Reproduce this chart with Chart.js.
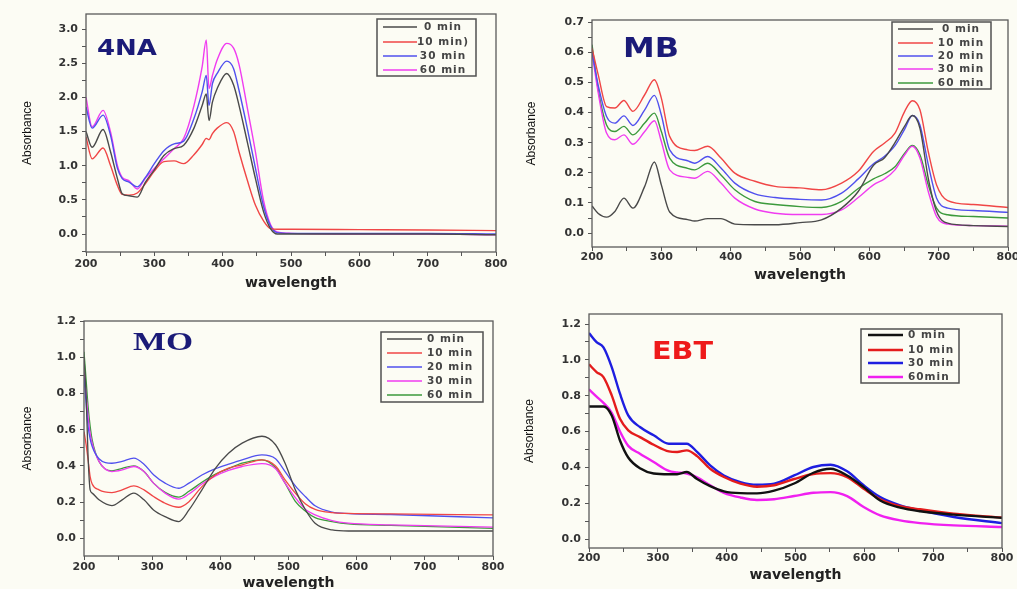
<!DOCTYPE html>
<html>
<head>
<meta charset="utf-8">
<script src="https://cdn.jsdelivr.net/npm/chart.js@4.4.1/dist/chart.umd.min.js"></script>
<style>
  html, body { margin: 0; padding: 0; background: #fcfcf4; overflow: hidden; width: 1017px; height: 589px; }
  canvas { position: absolute; left: 0; top: 0; }
</style>
</head>
<body>
<canvas id="naChart" width="1040" height="640"></canvas>
<canvas id="mbChart" width="1040" height="640"></canvas>
<canvas id="moChart" width="1040" height="640"></canvas>
<canvas id="ebtChart" width="1040" height="640"></canvas>
<script>
// ---- shared axis ticks ----
const wavelengthTicks = [200, 300, 400, 500, 600, 700, 800];

// ---- 4NA ----
const naLabels = ['0 min', '10 min)', '30 min', '60 min'];
const naWavelength = [200, 209, 225, 236, 246, 253, 263, 275, 287, 300, 314, 329, 343, 358, 370, 376, 380, 385, 392, 406, 416, 424, 436, 448, 460, 470, 480, 500, 600, 700, 800];
const na0 =  [1.50, 1.27, 1.53, 1.20, 0.81, 0.59, 0.56, 0.54, 0.76, 0.94, 1.15, 1.25, 1.30, 1.55, 1.88, 2.05, 1.66, 1.93, 2.13, 2.35, 2.18, 1.88, 1.35, 0.81, 0.32, 0.08, 0.00, 0.00, 0.00, 0.00, -0.01];
const na10 = [1.42, 1.10, 1.26, 1.00, 0.71, 0.58, 0.57, 0.60, 0.74, 0.92, 1.06, 1.07, 1.03, 1.16, 1.31, 1.40, 1.38, 1.47, 1.55, 1.63, 1.50, 1.20, 0.79, 0.42, 0.19, 0.08, 0.07, 0.07, 0.065, 0.06, 0.05];
const na30 = [1.86, 1.55, 1.74, 1.44, 0.96, 0.81, 0.76, 0.69, 0.83, 1.03, 1.22, 1.32, 1.36, 1.69, 2.08, 2.32, 1.88, 2.20, 2.35, 2.53, 2.42, 2.10, 1.55, 0.96, 0.40, 0.12, 0.02, 0.01, 0.01, 0.01, 0.00];
const na60 = [2.00, 1.57, 1.81, 1.49, 1.00, 0.83, 0.78, 0.66, 0.82, 0.96, 1.10, 1.25, 1.40, 1.88, 2.45, 2.84, 2.13, 2.32, 2.55, 2.79, 2.72, 2.48, 1.85, 1.20, 0.48, 0.14, 0.03, 0.01, 0.00, 0.00, -0.01];
const naAbsTicks = [0.0, 0.5, 1.0, 1.5, 2.0, 2.5, 3.0];

// ---- MB ----
const mbLabels = ['0 min', '10 min', '20 min', '30 min', '60 min'];
const mbWavelength = [200, 209, 221, 233, 246, 259, 276, 290, 300, 312, 338, 348, 367, 386, 406, 435, 464, 500, 531, 560, 584, 606, 622, 637, 651, 662, 673, 685, 697, 713, 750, 800];
const mb0 =  [0.090, 0.065, 0.053, 0.072, 0.116, 0.083, 0.155, 0.236, 0.160, 0.070, 0.045, 0.040, 0.048, 0.048, 0.030, 0.028, 0.028, 0.035, 0.044, 0.083, 0.138, 0.225, 0.250, 0.300, 0.355, 0.390, 0.348, 0.182, 0.072, 0.033, 0.025, 0.022];
const mb10 = [0.614, 0.525, 0.420, 0.415, 0.440, 0.404, 0.459, 0.509, 0.448, 0.321, 0.276, 0.274, 0.288, 0.249, 0.199, 0.172, 0.155, 0.150, 0.144, 0.166, 0.205, 0.271, 0.299, 0.332, 0.404, 0.439, 0.409, 0.270, 0.160, 0.108, 0.095, 0.085];
const mb20 = [0.600, 0.490, 0.387, 0.365, 0.389, 0.357, 0.409, 0.457, 0.392, 0.276, 0.240, 0.232, 0.254, 0.216, 0.166, 0.130, 0.118, 0.112, 0.110, 0.133, 0.180, 0.230, 0.255, 0.290, 0.345, 0.390, 0.359, 0.227, 0.116, 0.083, 0.075, 0.069];
const mb30 = [0.600, 0.465, 0.332, 0.310, 0.326, 0.295, 0.337, 0.373, 0.304, 0.210, 0.185, 0.182, 0.205, 0.166, 0.116, 0.080, 0.066, 0.062, 0.062, 0.077, 0.118, 0.160, 0.180, 0.210, 0.260, 0.288, 0.249, 0.138, 0.055, 0.030, 0.025, 0.023];
const mb60 = [0.625, 0.475, 0.359, 0.337, 0.354, 0.326, 0.365, 0.398, 0.337, 0.249, 0.215, 0.210, 0.232, 0.193, 0.144, 0.105, 0.095, 0.088, 0.085, 0.105, 0.148, 0.180, 0.197, 0.220, 0.265, 0.291, 0.260, 0.160, 0.083, 0.061, 0.055, 0.050];
const mbAbsTicks = [0.0, 0.1, 0.2, 0.3, 0.4, 0.5, 0.6, 0.7];

// ---- MO ----
const moLabels = ['0 min', '10 min', '20 min', '30 min', '60 min'];
const moWavelength = [200, 203, 206, 209, 212, 222, 241, 256, 273, 288, 302, 319, 339, 354, 373, 393, 412, 432, 461, 481, 495, 510, 525, 539, 564, 588, 650, 800];
const mo0 =  [1.00, 0.80, 0.45, 0.268, 0.25, 0.213, 0.181, 0.213, 0.25, 0.213, 0.157, 0.12, 0.093, 0.157, 0.268, 0.388, 0.47, 0.526, 0.564, 0.517, 0.415, 0.268, 0.157, 0.084, 0.047, 0.041, 0.041, 0.041];
const mo10 = [0.59, 0.52, 0.434, 0.341, 0.30, 0.268, 0.253, 0.268, 0.29, 0.268, 0.231, 0.194, 0.172, 0.203, 0.286, 0.351, 0.388, 0.406, 0.434, 0.40, 0.323, 0.25, 0.19, 0.16, 0.142, 0.138, 0.135, 0.13];
const mo20 = [0.887, 0.75, 0.618, 0.55, 0.507, 0.44, 0.415, 0.425, 0.443, 0.41, 0.351, 0.305, 0.277, 0.305, 0.35, 0.385, 0.41, 0.434, 0.461, 0.44, 0.369, 0.29, 0.23, 0.18, 0.145, 0.137, 0.132, 0.113];
const mo30 = [0.92, 0.80, 0.673, 0.58, 0.526, 0.425, 0.369, 0.378, 0.397, 0.369, 0.305, 0.25, 0.217, 0.245, 0.30, 0.345, 0.375, 0.397, 0.413, 0.385, 0.305, 0.225, 0.16, 0.13, 0.098, 0.084, 0.075, 0.062];
const mo60 = [1.03, 0.88, 0.728, 0.62, 0.544, 0.425, 0.373, 0.387, 0.40, 0.369, 0.305, 0.254, 0.228, 0.26, 0.31, 0.355, 0.385, 0.415, 0.434, 0.39, 0.305, 0.205, 0.15, 0.115, 0.093, 0.08, 0.072, 0.056];
const moAbsTicks = [0.0, 0.2, 0.4, 0.6, 0.8, 1.0, 1.2];

// ---- EBT ----
const ebtLabels = ['0 min', '10 min', '30 min', '60min'];
const ebtWavelength = [200, 211, 221, 233, 245, 257, 274, 294, 316, 328, 342, 357, 376, 396, 420, 444, 469, 498, 526, 551, 575, 599, 623, 652, 681, 730, 800];
const ebt0 =  [0.74, 0.74, 0.74, 0.69, 0.55, 0.455, 0.395, 0.366, 0.362, 0.362, 0.374, 0.335, 0.295, 0.266, 0.256, 0.255, 0.27, 0.31, 0.37, 0.392, 0.355, 0.29, 0.215, 0.175, 0.155, 0.136, 0.118];
const ebt10 = [0.975, 0.932, 0.904, 0.802, 0.671, 0.607, 0.569, 0.526, 0.489, 0.486, 0.495, 0.463, 0.392, 0.346, 0.309, 0.292, 0.30, 0.335, 0.363, 0.368, 0.346, 0.281, 0.222, 0.184, 0.166, 0.141, 0.12];
const ebt30 = [1.15, 1.099, 1.07, 0.96, 0.811, 0.69, 0.625, 0.579, 0.532, 0.532, 0.532, 0.486, 0.411, 0.355, 0.318, 0.303, 0.309, 0.355, 0.402, 0.415, 0.378, 0.30, 0.234, 0.188, 0.16, 0.123, 0.089];
const ebt60 = [0.835, 0.795, 0.76, 0.705, 0.60, 0.52, 0.476, 0.43, 0.38, 0.372, 0.366, 0.345, 0.30, 0.258, 0.232, 0.218, 0.222, 0.24, 0.258, 0.262, 0.24, 0.179, 0.132, 0.104, 0.089, 0.076, 0.067];
const ebtAbsTicks = [0.0, 0.2, 0.4, 0.6, 0.8, 1.0, 1.2];

const CANVAS_W = 1040, CANVAS_H = 640;
const AXIS_COLOR = '#555';
const TICK_FONT = { family: 'DejaVu Sans', size: 11, weight: 'bold' };

// majors plus midpoints (minor tick marks, no label)
function withMinors(majors, lo, hi) {
    const step = majors[1] - majors[0];
    const out = [];
    for (let v = majors[0] - step / 2; v <= majors[majors.length - 1] + step / 2 + 1e-9; v += step / 2) {
        const r = Math.round(v * 1000) / 1000;
        if (r >= lo - 1e-9 && r <= hi + 1e-9) out.push(r);
    }
    return out;
}

function isMajor(v, majors) {
    return majors.some(m => Math.abs(m - v) < 1e-6);
}

// frame, panel name and boxed legend
const panelDecor = {
    id: 'panelDecor',
    afterDatasetsDraw(chart, args, opts) {
        const ctx = chart.ctx;
        const a = chart.chartArea;
        ctx.save();
        ctx.strokeStyle = '#5a5a5a';
        ctx.lineWidth = 1.3;
        ctx.strokeRect(a.left, a.top, a.right - a.left, a.bottom - a.top);

        const t = opts.title;
        ctx.font = t.font;
        ctx.fillStyle = t.color;
        ctx.textBaseline = 'middle';
        ctx.textAlign = 'left';
        const w = ctx.measureText(t.text).width;
        ctx.save();
        ctx.translate(t.x, t.y);
        ctx.scale(t.width / w, 1);
        ctx.fillText(t.text, 0, 0);
        ctx.restore();

        const lg = opts.legend;
        ctx.strokeStyle = '#505050';
        ctx.lineWidth = 1.5;
        ctx.strokeRect(lg.box[0], lg.box[1], lg.box[2], lg.box[3]);
        chart.data.datasets.forEach((ds, i) => {
            const y = lg.rows[i];
            ctx.strokeStyle = ds.borderColor;
            ctx.lineWidth = lg.lineWidth;
            ctx.beginPath();
            ctx.moveTo(lg.x1, y);
            ctx.lineTo(lg.x2, y);
            ctx.stroke();
            ctx.font = lg.font;
            ctx.letterSpacing = '1px';
            ctx.fillStyle = '#444';
            ctx.textAlign = lg.align;
            ctx.fillText(ds.label, lg.textX, y + 0.5);
            ctx.letterSpacing = '0px';
        });
        ctx.restore();
    }
};

function buildPanel(id, p) {
    const datasets = p.series.map(s => ({
        label: s.label,
        data: p.wavelength.map((x, i) => ({ x: x, y: s.values[i] })),
        borderColor: s.color,
        borderWidth: p.lineWidth,
        pointRadius: 0,
        fill: false,
        cubicInterpolationMode: 'monotone'
    }));

    return new Chart(document.getElementById(id), {
        type: 'line',
        data: { datasets: datasets },
        options: {
            responsive: false,
            animation: false,
            events: [],
            layout: {
                padding: {
                    left: p.area.left - p.yAxisWidth,
                    top: p.area.top,
                    right: CANVAS_W - p.area.right,
                    bottom: CANVAS_H - p.area.bottom - p.xAxisHeight
                }
            },
            plugins: {
                legend: { display: false },
                tooltip: { enabled: false },
                panelDecor: { title: p.title, legend: p.legend }
            },
            scales: {
                x: {
                    type: 'linear',
                    min: 200,
                    max: 800,
                    afterBuildTicks: s => { s.ticks = withMinors(wavelengthTicks, 200, 800).map(v => ({ value: v })); },
                    afterFit: s => { s.height = p.xAxisHeight; },
                    border: { display: false },
                    grid: { drawOnChartArea: false, drawTicks: true, tickLength: 4, color: AXIS_COLOR, lineWidth: 1 },
                    ticks: {
                        autoSkip: false,
                        maxRotation: 0,
                        padding: p.xTickPad,
                        color: '#333',
                        font: TICK_FONT,
                        callback: v => isMajor(v, wavelengthTicks) ? String(v) : ''
                    },
                    title: {
                        display: true,
                        text: 'wavelength',
                        color: '#222',
                        font: { family: 'DejaVu Sans', size: 14, weight: 'bold', lineHeight: 1 },
                        padding: { top: 0, bottom: 4 }
                    }
                },
                y: {
                    type: 'linear',
                    min: p.yMin,
                    max: p.yMax,
                    afterBuildTicks: s => { s.ticks = withMinors(p.yTicks, p.yMin, p.yMax).map(v => ({ value: v })); },
                    afterFit: s => { s.width = p.yAxisWidth; },
                    border: { display: false },
                    grid: { drawOnChartArea: false, drawTicks: true, tickLength: 4, color: AXIS_COLOR, lineWidth: 1 },
                    ticks: {
                        padding: 4,
                        color: '#333',
                        font: TICK_FONT,
                        callback: v => isMajor(v, p.yTicks) ? v.toFixed(1) : ''
                    },
                    title: {
                        display: true,
                        text: 'Absorbance',
                        color: '#111',
                        font: { family: "'Liberation Sans'", size: 12, lineHeight: 1 },
                        padding: { top: 5, bottom: 0 }
                    }
                }
            }
        },
        plugins: [panelDecor]
    });
}

const GRAY = '#4a4a4a', RED = '#f04646', BLUE = '#5050ee', MAGENTA = '#f03cf0', GREEN = '#3c9a3c';

buildPanel('naChart', {
    area: { left: 86, right: 496, top: 14, bottom: 252 },
    yAxisWidth: 69, xAxisHeight: 42, xTickPad: 2,
    yMin: -0.263, yMax: 3.22, yTicks: naAbsTicks,
    wavelength: naWavelength, lineWidth: 1.4,
    series: [
        { label: naLabels[0], values: na0, color: GRAY },
        { label: naLabels[1], values: na10, color: RED },
        { label: naLabels[2], values: na30, color: BLUE },
        { label: naLabels[3], values: na60, color: MAGENTA }
    ],
    title: { text: '4NA', font: 'bold 21px "DejaVu Sans"', color: '#1b1b78', x: 97, y: 50, width: 60 },
    legend: { box: [377, 19, 99, 57], rows: [27, 42, 56, 70], x1: 383, x2: 417, textX: 443, align: 'center', lineWidth: 1.4, font: 'bold 10.5px "DejaVu Sans"' }
});

buildPanel('mbChart', {
    area: { left: 592, right: 1008, top: 20, bottom: 247 },
    yAxisWidth: 71, xAxisHeight: 39, xTickPad: 0,
    yMin: -0.046, yMax: 0.707, yTicks: mbAbsTicks,
    wavelength: mbWavelength, lineWidth: 1.4,
    series: [
        { label: mbLabels[0], values: mb0, color: GRAY },
        { label: mbLabels[1], values: mb10, color: RED },
        { label: mbLabels[2], values: mb20, color: BLUE },
        { label: mbLabels[3], values: mb30, color: MAGENTA },
        { label: mbLabels[4], values: mb60, color: GREEN }
    ],
    title: { text: 'MB', font: 'bold 27px "DejaVu Sans"', color: '#1b1b78', x: 623, y: 50, width: 56 },
    legend: { box: [892, 22, 99, 67], rows: [29, 43, 56, 69, 83], x1: 898, x2: 933, textX: 961, align: 'center', lineWidth: 1.4, font: 'bold 10.5px "DejaVu Sans"' }
});

buildPanel('moChart', {
    area: { left: 84, right: 493, top: 321, bottom: 556 },
    yAxisWidth: 67, xAxisHeight: 38, xTickPad: 1,
    yMin: -0.097, yMax: 1.2, yTicks: moAbsTicks,
    wavelength: moWavelength, lineWidth: 1.3,
    series: [
        { label: moLabels[0], values: mo0, color: GRAY },
        { label: moLabels[1], values: mo10, color: RED },
        { label: moLabels[2], values: mo20, color: BLUE },
        { label: moLabels[3], values: mo30, color: MAGENTA },
        { label: moLabels[4], values: mo60, color: GREEN }
    ],
    title: { text: 'MO', font: 'bold 25px "Liberation Serif"', color: '#1b1b78', x: 133, y: 344, width: 60 },
    legend: { box: [381, 332, 102, 70], rows: [339, 353, 367, 381, 395], x1: 387, x2: 422, textX: 427, align: 'left', lineWidth: 1.4, font: 'bold 10.5px "DejaVu Sans"' }
});

buildPanel('ebtChart', {
    area: { left: 589, right: 1002, top: 314, bottom: 548 },
    yAxisWidth: 70, xAxisHeight: 38, xTickPad: 0,
    yMin: -0.05, yMax: 1.256, yTicks: ebtAbsTicks,
    wavelength: ebtWavelength, lineWidth: 2.4,
    series: [
        { label: ebtLabels[0], values: ebt0, color: '#111111' },
        { label: ebtLabels[1], values: ebt10, color: '#e41c1c' },
        { label: ebtLabels[2], values: ebt30, color: '#1e1ee0' },
        { label: ebtLabels[3], values: ebt60, color: '#f020f0' }
    ],
    title: { text: 'EBT', font: 'bold 24px "DejaVu Sans"', color: '#ee1a1a', x: 652, y: 353, width: 61 },
    legend: { box: [861, 329, 98, 54], rows: [335, 350, 363, 377], x1: 868, x2: 903, textX: 908, align: 'left', lineWidth: 2.5, font: 'bold 10.5px "DejaVu Sans"' }
});
</script>
</body>
</html>
